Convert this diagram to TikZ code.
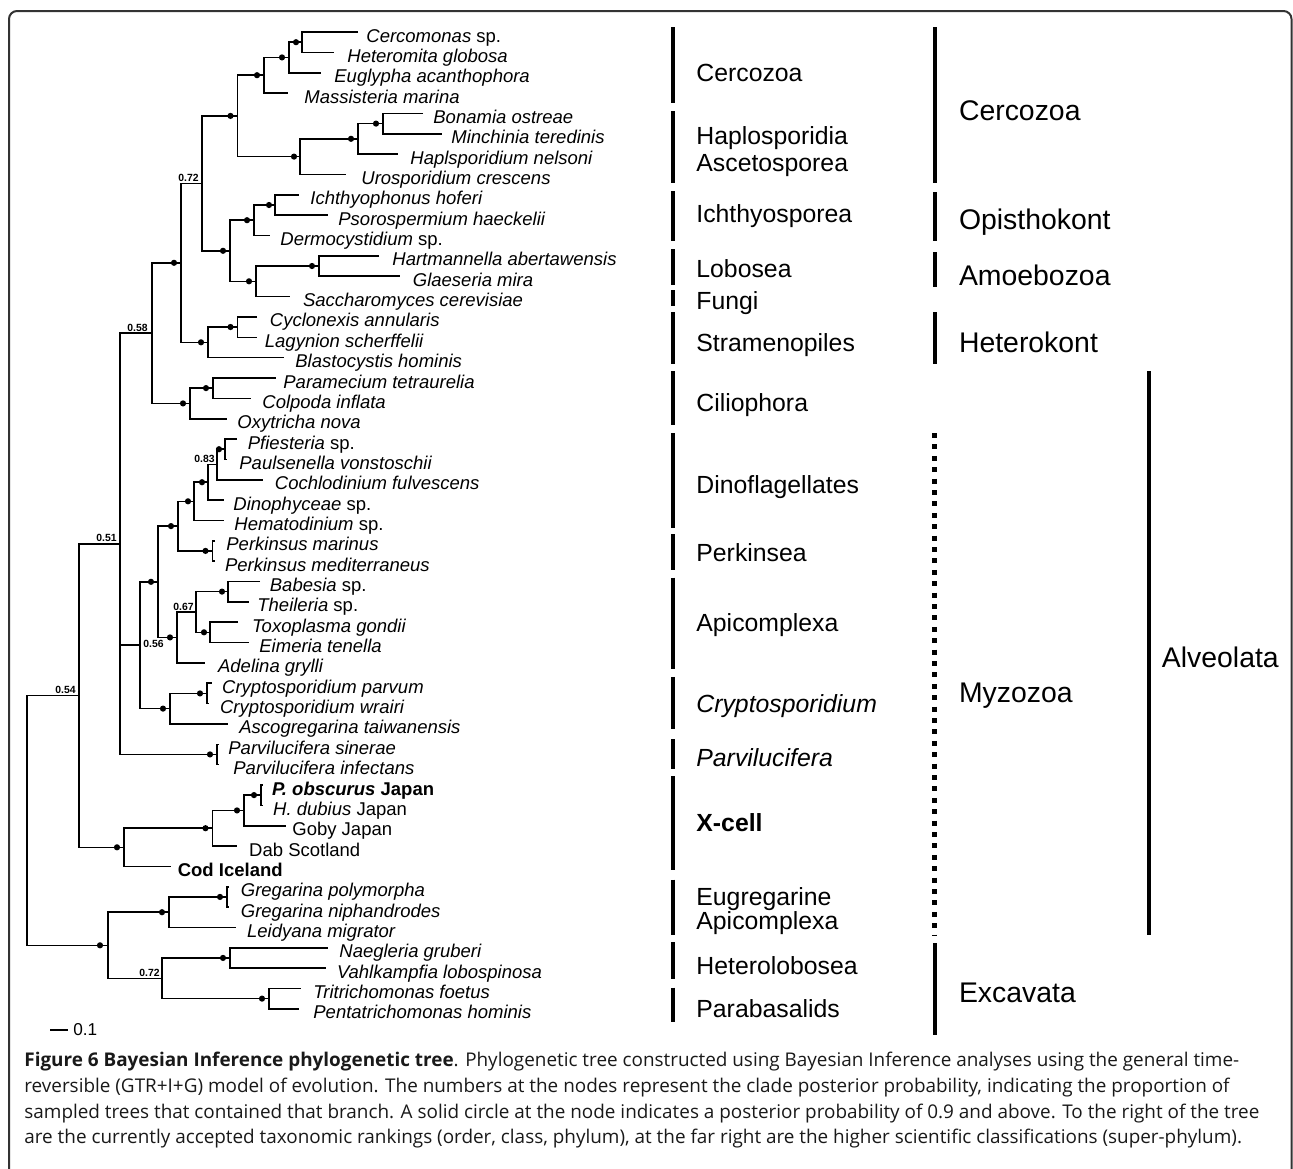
\documentclass[tikz,border=0pt]{standalone}
\usepackage{fontspec}
\setmainfont{Liberation Sans}
\newfontfamily\capfont{Open Sans}
\usetikzlibrary{calc, positioning}

\tikzset{
  branch/.style={line width=0.8pt},
  post/.style={circle, fill, inner sep=0pt, minimum size=3.1pt},
  pval/.style={font=\bfseries\fontsize{5.2}{6}\selectfont, inner sep=0pt, anchor=base east},
  leaf/.style={font=\fontsize{9.25}{10}\selectfont, inner sep=0pt, anchor=base west, yshift=-5pt},
  rank/.style={font=\fontsize{12.4}{13.5}\selectfont, inner sep=0pt, anchor=base west},
  super/.style={font=\fontsize{14.2}{15}\selectfont, inner sep=0pt, anchor=base west},
  rankbar/.style={line width=2pt},
  dotbar/.style={line width=2.4pt, dash pattern=on 2.5pt off 3.2pt},
  boxline/.style={draw=black!80, line width=1pt, rounded corners=4pt},
}

\begin{document}
\begin{tikzpicture}[x=0.5pt, y=-0.5pt]
\useasboundingbox (0,0) rectangle (1293,1168);
\begin{scope}
\clip (0,0) rectangle (1293,1168);
\draw[boxline] (9,1190) -- (9,11) -- (1291.5,11) -- (1291.5,1190);
\end{scope}

\coordinate (t1) at (358,32.0); \node[leaf] (l1) at (366,32.0) {\textit{Cercomonas} sp.};
\coordinate (t2) at (334,52.4); \node[leaf] (l2) at (347,52.4) {\textit{Heteromita globosa}};
\coordinate (t3) at (321,72.7); \node[leaf] (l3) at (334,72.7) {\textit{Euglypha acanthophora}};
\coordinate (t4) at (288,93.1); \node[leaf] (l4) at (304,93.1) {\textit{Massisteria marina}};
\coordinate (t5) at (423,113.4); \node[leaf] (l5) at (433,113.4) {\textit{Bonamia ostreae}};
\coordinate (t6) at (441.5,133.8); \node[leaf] (l6) at (451,133.8) {\textit{Minchinia teredinis}};
\coordinate (t7) at (398,154.1); \node[leaf] (l7) at (410,154.1) {\textit{Haplsporidium nelsoni}};
\coordinate (t8) at (346,174.5); \node[leaf] (l8) at (361,174.5) {\textit{Urosporidium crescens}};
\coordinate (t9) at (298.5,194.8); \node[leaf] (l9) at (310,194.8) {\textit{Ichthyophonus hoferi}};
\coordinate (t10) at (327.5,215.2); \node[leaf] (l10) at (338,215.2) {\textit{Psorospermium haeckelii}};
\coordinate (t11) at (269.5,235.5); \node[leaf] (l11) at (280,235.5) {\textit{Dermocystidium} sp.};
\coordinate (t12) at (379,255.9); \node[leaf] (l12) at (392,255.9) {\textit{Hartmannella abertawensis}};
\coordinate (t13) at (400,276.2); \node[leaf] (l13) at (412.5,276.2) {\textit{Glaeseria mira}};
\coordinate (t14) at (290,296.6); \node[leaf] (l14) at (302.6,296.6) {\textit{Saccharomyces cerevisiae}};
\coordinate (t15) at (257,316.9); \node[leaf] (l15) at (269.5,316.9) {\textit{Cyclonexis annularis}};
\coordinate (t16) at (257,337.3); \node[leaf] (l16) at (264.5,337.3) {\textit{Lagynion scherffelii}};
\coordinate (t17) at (284,357.6); \node[leaf] (l17) at (295,357.6) {\textit{Blastocystis hominis}};
\coordinate (t18) at (275.7,378.0); \node[leaf] (l18) at (283,378.0) {\textit{Paramecium tetraurelia}};
\coordinate (t19) at (251,398.3); \node[leaf] (l19) at (262,398.3) {\textit{Colpoda inflata}};
\coordinate (t20) at (227,418.7); \node[leaf] (l20) at (237,418.7) {\textit{Oxytricha nova}};
\coordinate (t21) at (237,439.0); \node[leaf] (l21) at (247.5,439.0) {\textit{Pfiesteria} sp.};
\coordinate (t22) at (227,459.4); \node[leaf] (l22) at (239,459.4) {\textit{Paulsenella vonstoschii}};
\coordinate (t23) at (263,479.7); \node[leaf] (l23) at (274.5,479.7) {\textit{Cochlodinium fulvescens}};
\coordinate (t24) at (224,500.1); \node[leaf] (l24) at (233,500.1) {\textit{Dinophyceae} sp.};
\coordinate (t25) at (224,520.4); \node[leaf] (l25) at (234,520.4) {\textit{Hematodinium} sp.};
\coordinate (t26) at (215,540.8); \node[leaf] (l26) at (226,540.8) {\textit{Perkinsus marinus}};
\coordinate (t27) at (215,561.1); \node[leaf] (l27) at (224.7,561.1) {\textit{Perkinsus mediterraneus}};
\coordinate (t28) at (260,581.5); \node[leaf] (l28) at (269.5,581.5) {\textit{Babesia} sp.};
\coordinate (t29) at (249,601.8); \node[leaf] (l29) at (257,601.8) {\textit{Theileria} sp.};
\coordinate (t30) at (238,622.2); \node[leaf] (l30) at (251.7,622.2) {\textit{Toxoplasma gondii}};
\coordinate (t31) at (249,642.5); \node[leaf] (l31) at (259,642.5) {\textit{Eimeria tenella}};
\coordinate (t32) at (205,662.9); \node[leaf] (l32) at (217.7,662.9) {\textit{Adelina grylli}};
\coordinate (t33) at (211.5,683.2); \node[leaf] (l33) at (221.8,683.2) {\textit{Cryptosporidium parvum}};
\coordinate (t34) at (209,703.6); \node[leaf] (l34) at (219.7,703.6) {\textit{Cryptosporidium wrairi}};
\coordinate (t35) at (228,723.9); \node[leaf] (l35) at (239,723.9) {\textit{Ascogregarina taiwanensis}};
\coordinate (t36) at (219,744.3); \node[leaf] (l36) at (228,744.3) {\textit{Parvilucifera sinerae}};
\coordinate (t37) at (219,764.6); \node[leaf] (l37) at (233,764.6) {\textit{Parvilucifera infectans}};
\coordinate (t38) at (262.5,785.0); \node[leaf] (l38) at (271.6,785.0) {\textbf{\textit{P. obscurus} Japan}};
\coordinate (t39) at (262.5,805.3); \node[leaf] (l39) at (272.8,805.3) {\textit{H. dubius} Japan};
\coordinate (t40) at (286,825.7); \node[leaf] (l40) at (292,825.7) {Goby Japan};
\coordinate (t41) at (237,846.0); \node[leaf] (l41) at (248.8,846.0) {Dab Scotland};
\coordinate (t42) at (170.8,866.4); \node[leaf] (l42) at (177.4,866.4) {\textbf{Cod Iceland}};
\coordinate (t43) at (229,886.7); \node[leaf] (l43) at (240.5,886.7) {\textit{Gregarina polymorpha}};
\coordinate (t44) at (229,907.1); \node[leaf] (l44) at (240.5,907.1) {\textit{Gregarina niphandrodes}};
\coordinate (t45) at (236,927.4); \node[leaf] (l45) at (246.7,927.4) {\textit{Leidyana migrator}};
\coordinate (t46) at (327.5,947.8); \node[leaf] (l46) at (339,947.8) {\textit{Naegleria gruberi}};
\coordinate (t47) at (325.5,968.1); \node[leaf] (l47) at (336.6,968.1) {\textit{Vahlkampfia lobospinosa}};
\coordinate (t48) at (300.6,988.5); \node[leaf] (l48) at (313,988.5) {\textit{Tritrichomonas foetus}};
\coordinate (t49) at (298.5,1008.8); \node[leaf] (l49) at (313,1008.8) {\textit{Pentatrichomonas hominis}};

\coordinate (ch) at (302,42.2);
\coordinate (che) at (289,57.4);
\coordinate (chem) at (264,75.2);
\coordinate (bm) at (383,123.6);
\coordinate (bmh) at (358,138.8);
\coordinate (bmhu) at (300,156.6);
\coordinate (cerc) at (237.5,115.9);
\coordinate (ip) at (275,205);
\coordinate (ipd) at (254,220.2);
\coordinate (hg) at (319,266);
\coordinate (hgs) at (256,281.3);
\coordinate (il) at (230,250.8);
\coordinate (nx) at (202,183.3);
\coordinate (cl) at (237.5,327);
\coordinate (clb) at (208,342.3);
\coordinate (ny) at (181,262.8);
\coordinate (pc) at (213,388.1);
\coordinate (pco) at (190,403.4);
\coordinate (nz) at (152,333.1);
\coordinate (pfp) at (225,449.2);
\coordinate (pfc) at (217,464.4);
\coordinate (pfd) at (208,482.2);
\coordinate (dino) at (194,501.3);
\coordinate (perk) at (212.5,550.9);
\coordinate (dp) at (178,526.1);
\coordinate (bt) at (228,591.6);
\coordinate (te) at (210,632.3);
\coordinate (btte) at (196,612);
\coordinate (api) at (177,637.4);
\coordinate (dpa) at (158,581.8);
\coordinate (cry) at (207,693.4);
\coordinate (crya) at (170,708.6);
\coordinate (n56) at (140,645.2);
\coordinate (parv) at (217,754.4);
\coordinate (nw) at (120,543.8);
\coordinate (ph) at (261,795.1);
\coordinate (phg) at (244,810.4);
\coordinate (phgd) at (212.5,828.2);
\coordinate (xc) at (124,847.3);
\coordinate (na) at (79,695.5);
\coordinate (gg) at (227,896.9);
\coordinate (ggl) at (169,912.2);
\coordinate (nv) at (230,957.9);
\coordinate (tp) at (269,998.6);
\coordinate (exc) at (162,978.3);
\coordinate (nb) at (108,945.3);
\coordinate (root) at (27,820.4);

\begin{scope}[branch]
\draw (t1) -| (ch) |- (t2);
\draw (ch) -| (che) |- (t3);
\draw (che) -| (chem) |- (t4);
\draw (t5) -| (bm) |- (t6);
\draw (bm) -| (bmh) |- (t7);
\draw (bmh) -| (bmhu) |- (t8);
\draw (chem) -| (cerc) |- (bmhu);
\draw (t9) -| (ip) |- (t10);
\draw (ip) -| (ipd) |- (t11);
\draw (t12) -| (hg) |- (t13);
\draw (hg) -| (hgs) |- (t14);
\draw (ipd) -| (il) |- (hgs);
\draw (cerc) -| (nx) |- (il);
\draw (t15) -| (cl) |- (t16);
\draw (cl) -| (clb) |- (t17);
\draw (nx) -| (ny) |- (clb);
\draw (t18) -| (pc) |- (t19);
\draw (pc) -| (pco) |- (t20);
\draw (ny) -| (nz) |- (pco);
\draw (t21) -| (pfp) |- (t22);
\draw (pfp) -| (pfc) |- (t23);
\draw (pfc) -| (pfd) |- (t24);
\draw (pfd) -| (dino) |- (t25);
\draw (t26) -| (perk) |- (t27);
\draw (dino) -| (dp) |- (perk);
\draw (t28) -| (bt) |- (t29);
\draw (t30) -| (te) |- (t31);
\draw (bt) -| (btte) |- (te);
\draw (btte) -| (api) |- (t32);
\draw (dp) -| (dpa) |- (api);
\draw (t33) -| (cry) |- (t34);
\draw (cry) -| (crya) |- (t35);
\draw (dpa) -| (n56) |- (crya);
\draw (t36) -| (parv) |- (t37);
\draw (nz) -| (nw) |- (parv);
\draw (nw |- n56) -- (n56);
\draw (t38) -| (ph) |- (t39);
\draw (ph) -| (phg) |- (t40);
\draw (phg) -| (phgd) |- (t41);
\draw (phgd) -| (xc) |- (t42);
\draw (nw) -| (na) |- (xc);
\draw (t43) -| (gg) |- (t44);
\draw (gg) -| (ggl) |- (t45);
\draw (t46) -| (nv) |- (t47);
\draw (t48) -| (tp) |- (t49);
\draw (nv) -| (exc) |- (tp);
\draw (ggl) -| (nb) |- (exc);
\draw (na) -| (root) |- (nb);
\end{scope}

\node[post] (ch-p) at ($(ch)+(-6,0)$) {};
\node[post] (che-p) at ($(che)+(-7,0)$) {};
\node[post] (chem-p) at ($(chem)+(-7,0)$) {};
\node[post] (cerc-p) at ($(cerc)+(-7,0)$) {};
\node[post] (bm-p) at ($(bm)+(-7,0)$) {};
\node[post] (bmh-p) at ($(bmh)+(-7,0)$) {};
\node[post] (bmhu-p) at ($(bmhu)+(-6,0)$) {};
\node[post] (ip-p) at ($(ip)+(-6,0)$) {};
\node[post] (ipd-p) at ($(ipd)+(-7,0)$) {};
\node[post] (hg-p) at ($(hg)+(-7,0)$) {};
\node[post] (hgs-p) at ($(hgs)+(-7,0)$) {};
\node[post] (il-p) at ($(il)+(-7,0)$) {};
\node[post] (cl-p) at ($(cl)+(-7,0)$) {};
\node[post] (clb-p) at ($(clb)+(-7,0)$) {};
\node[post] (ny-p) at ($(ny)+(-7,0)$) {};
\node[post] (pc-p) at ($(pc)+(-7,0)$) {};
\node[post] (pco-p) at ($(pco)+(-7,0)$) {};
\node[post] (pfp-p) at ($(pfp)+(-6,0)$) {};
\node[post] (pfd-p) at ($(pfd)+(-6,0)$) {};
\node[post] (dino-p) at ($(dino)+(-6,0)$) {};
\node[post] (perk-p) at ($(perk)+(-7,0)$) {};
\node[post] (dp-p) at ($(dp)+(-7,0)$) {};
\node[post] (bt-p) at ($(bt)+(-6,0)$) {};
\node[post] (te-p) at ($(te)+(-6,0)$) {};
\node[post] (api-p) at ($(api)+(-7,0)$) {};
\node[post] (dpa-p) at ($(dpa)+(-7,0)$) {};
\node[post] (cry-p) at ($(cry)+(-7,0)$) {};
\node[post] (crya-p) at ($(crya)+(-7,0)$) {};
\node[post] (parv-p) at ($(parv)+(-7,0)$) {};
\node[post] (ph-p) at ($(ph)+(-7,0)$) {};
\node[post] (phg-p) at ($(phg)+(-7,0)$) {};
\node[post] (phgd-p) at ($(phgd)+(-7,0)$) {};
\node[post] (xc-p) at ($(xc)+(-7,0)$) {};
\node[post] (gg-p) at ($(gg)+(-7,0)$) {};
\node[post] (ggl-p) at ($(ggl)+(-7,0)$) {};
\node[post] (nb-p) at ($(nb)+(-8,0)$) {};
\node[post] (nv-p) at ($(nv)+(-7,0)$) {};
\node[post] (tp-p) at ($(tp)+(-7,0)$) {};

\node[pval] (nx-v) at ($(nx)+(-3,-2)$) {0.72};
\node[pval] (nz-v) at ($(nz)+(-4,-2)$) {0.58};
\node[pval] (pfc-v) at ($(pfc)+(-2,-2)$) {0.83};
\node[pval] (nw-v) at ($(nw)+(-3,-2)$) {0.51};
\node[pval] (btte-v) at ($(btte)+(-2,-2)$) {0.67};
\node[pval, anchor=base west] (n56-v) at ($(n56)+(3,2)$) {0.56};
\node[pval] (na-v) at ($(na)+(-3,-2)$) {0.54};
\node[pval] (exc-v) at ($(exc)+(-2,-2)$) {0.72};

\coordinate (s0) at (50,1030);
\coordinate (s1) at (68,1030);
\draw[branch] (s0) -- (s1);
\node[font=\fontsize{8.6}{9}\selectfont, inner sep=0pt, anchor=west] (sc) at (73,1030) {0.1};

\draw[rankbar] (672.5,27) -- (672.5,103);
\draw[rankbar] (672.5,111) -- (672.5,183);
\draw[rankbar] (672.5,191) -- (672.5,241);
\draw[rankbar] (672.5,249) -- (672.5,285);
\draw[rankbar] (672.5,290) -- (672.5,306);
\draw[rankbar] (672.5,312) -- (672.5,364);
\draw[rankbar] (672.5,371) -- (672.5,425);
\draw[rankbar] (672.5,433) -- (672.5,528);
\draw[rankbar] (672.5,534) -- (672.5,569.5);
\draw[rankbar] (672.5,577.6) -- (672.5,668.6);
\draw[rankbar] (672.5,676.8) -- (672.5,729);
\draw[rankbar] (672.5,739) -- (672.5,768.5);
\draw[rankbar] (672.5,776) -- (672.5,870);
\draw[rankbar] (672.5,879.5) -- (672.5,935);
\draw[rankbar] (672.5,942) -- (672.5,979);
\draw[rankbar] (672.5,987.5) -- (672.5,1022);

\node[rank] (r1) at (696,81) {Cercozoa};
\node[rank, anchor=west, align=left] (r2) at (696,152) {Haplosporidia\\Ascetosporea};
\node[rank] (r3) at (696,222) {Ichthyosporea};
\node[rank] (r4) at (696,277) {Lobosea};
\node[rank] (r5) at (696,309) {Fungi};
\node[rank] (r6) at (696,351) {Stramenopiles};
\node[rank] (r7) at (696,411) {Ciliophora};
\node[rank] (r8) at (696,493) {Dinoflagellates};
\node[rank] (r9) at (696,561) {Perkinsea};
\node[rank] (r10) at (696,631) {Apicomplexa};
\node[rank] (r11) at (696,712) {\textit{Cryptosporidium}};
\node[rank] (r12) at (696,766) {\textit{Parvilucifera}};
\node[rank] (r13) at (696,831) {\textbf{X-cell}};
\node[rank, anchor=west, align=left, font=\fontsize{12.4}{11.8}\selectfont] (r14) at (696,911) {Eugregarine\\Apicomplexa};
\node[rank] (r15) at (696,974) {Heterolobosea};
\node[rank] (r16) at (696,1017) {Parabasalids};

\draw[rankbar] (934.5,27) -- (934.5,183);
\draw[rankbar] (934.5,192) -- (934.5,241);
\draw[rankbar] (934.5,252) -- (934.5,287);
\draw[rankbar] (934.5,312) -- (934.5,364);
\draw[dotbar] (934.5,433) -- (934.5,935);
\draw[rankbar] (934.5,943) -- (934.5,1035);
\draw[rankbar] (1149,371) -- (1149,935);

\node[super] (s1) at (958.6,120) {Cercozoa};
\node[super] (s2) at (958.6,229) {Opisthokont};
\node[super] (s3) at (958.6,285) {Amoebozoa};
\node[super] (s4) at (958.6,352) {Heterokont};
\node[super] (s5) at (958.6,702) {Myzozoa};
\node[super] (s6) at (958.6,1002) {Excavata};
\node[super] (s7) at (1161.5,667) {Alveolata};

\node[anchor=north west, align=left, inner sep=0pt, text=black!90,
  font=\capfont\fontsize{9.45}{12.8}\selectfont] (cap) at (24,1052)
  {\textbf{Figure 6 Bayesian Inference phylogenetic tree}. Phylogenetic tree constructed using Bayesian Inference analyses using the general time-\\
   reversible (GTR+I+G) model of evolution. The numbers at the nodes represent the clade posterior probability, indicating the proportion of\\
   sampled trees that contained that branch. A solid circle at the node indicates a posterior probability of 0.9 and above. To the right of the tree\\
   are the currently accepted taxonomic rankings (order, class, phylum), at the far right are the higher scientific classifications (super-phylum).};
\end{tikzpicture}
\end{document}
